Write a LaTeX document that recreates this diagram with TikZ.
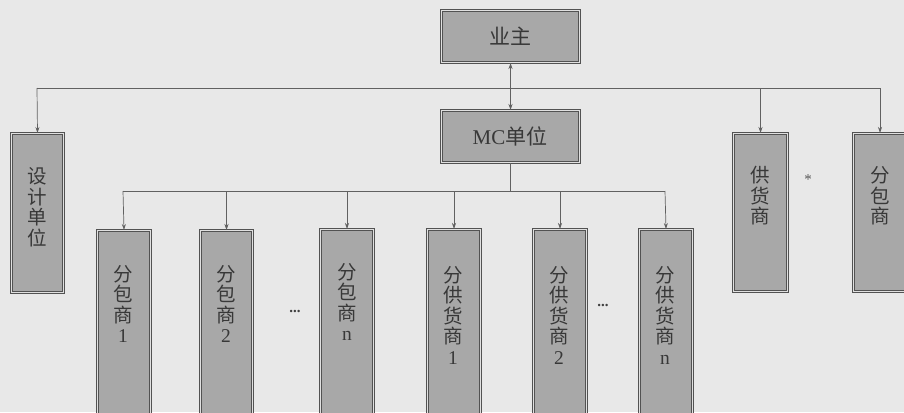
\documentclass[tikz,border=0pt]{standalone}
\usepackage{fontspec}
\setmainfont{Liberation Serif}
\newfontfamily\cjk{Noto Sans CJK SC}
\usetikzlibrary{arrows.meta}
\tikzset{
  orgbox/.style={draw=black!68, line width=1pt, double=black!12, double distance=1.4pt,
    fill=black!34, inner sep=0pt},
  lbl/.style={align=center, text=black!78, inner sep=0pt,
    font=\cjk\fontsize{21}{22}\selectfont},
  vlbl/.style={align=center, text=black!78, inner sep=0pt,
    font=\cjk\fontsize{19.5}{20.5}\selectfont},
  dotsl/.style={text=black!75, inner sep=0pt, font=\bfseries\fontsize{15}{15}\selectfont},
  conn/.style={draw=black!62, line width=0.7pt},
  arr/.style={conn, -{Stealth[length=6pt,width=4pt]}},
  darr/.style={conn, {Stealth[length=6pt,width=4pt]}-{Stealth[length=6pt,width=4pt]}},
}
\newcommand{\rmd}[1]{{\rmfamily #1}}
\begin{document}
\begin{tikzpicture}[x=1pt,y=-1pt]
\fill[black!9] (0,0) rectangle (904,412);
\useasboundingbox (0,0) rectangle (904,412);
\clip (0,0) rectangle (904,412);
% boxes
\node[orgbox, anchor=north west, minimum width=138pt, minimum height=52pt] (yz) at (441,10) {};
\node[lbl] (yzt) at (510,36) {业主};
\node[orgbox, anchor=north west, minimum width=138pt, minimum height=52pt] (mc) at (441,110) {};
\node[lbl] (mct) at (510,136) {\rmd{MC}单位};
\node[orgbox, anchor=north west, minimum width=52pt, minimum height=159pt] (sj) at (11,133) {};
\node[vlbl] (sjt) at (37,207) {设\\计\\单\\位};
\node[orgbox, anchor=north west, minimum width=54pt, minimum height=158pt] (gh) at (733,133) {};
\node[vlbl] (ght) at (760,196) {供\\货\\商};
\node[orgbox, anchor=north west, minimum width=53pt, minimum height=158pt] (fb) at (853,133) {};
\node[vlbl] (fbt) at (880,196) {分\\包\\商};
% bottom boxes
\node[orgbox, anchor=north west, minimum width=53pt, minimum height=200pt] (b1) at (97,230) {};
\node[vlbl] (b1t) at (123,304) {分\\包\\商\\\rmd{1}};
\node[orgbox, anchor=north west, minimum width=52pt, minimum height=200pt] (b2) at (200,230) {};
\node[vlbl] (b2t) at (226,304) {分\\包\\商\\\rmd{2}};
\node[orgbox, anchor=north west, minimum width=53pt, minimum height=200pt] (b3) at (320,229) {};
\node[vlbl] (b3t) at (347,302) {分\\包\\商\\\rmd{n}};
\node[orgbox, anchor=north west, minimum width=53pt, minimum height=200pt] (b4) at (427,229) {};
\node[vlbl] (b4t) at (453,315) {分\\供\\货\\商\\\rmd{1}};
\node[orgbox, anchor=north west, minimum width=53pt, minimum height=200pt] (b5) at (533,229) {};
\node[vlbl] (b5t) at (559,315) {分\\供\\货\\商\\\rmd{2}};
\node[orgbox, anchor=north west, minimum width=53pt, minimum height=200pt] (b6) at (639,229) {};
\node[vlbl] (b6t) at (665,315) {分\\供\\货\\商\\\rmd{n}};
% dots and star
\node[dotsl] (d1) at (295,311) {...};
\node[dotsl] (d2) at (603,305) {...};
\node[text=black!65, font=\fontsize{15}{15}\selectfont] (st) at (808,180) {*};
% connectors
\draw[darr] (yz.south) -- (mc.north);
\coordinate (hL) at (37,88);
\coordinate (hR) at (880,88);
\draw[conn] (hL) -- (hR);
\draw[arr] (hL) -- (sj.north);
\draw[arr] (hR) -- (fb.north);
\draw[arr] (gh.north |- hL) -- (gh.north);
\coordinate (mL) at (123,191);
\coordinate (mR) at (665,191);
\draw[conn] (mc.south) -- (mc.south |- mL);
\draw[conn] (mL) -- (mR);
\draw[arr] (mL) -- (b1.north);
\draw[arr] (b2.north |- mL) -- (b2.north);
\draw[arr] (b3.north |- mL) -- (b3.north);
\draw[arr] (b4.north |- mL) -- (b4.north);
\draw[arr] (b5.north |- mL) -- (b5.north);
\draw[arr] (mR) -- (b6.north);
\end{tikzpicture}
\end{document}
